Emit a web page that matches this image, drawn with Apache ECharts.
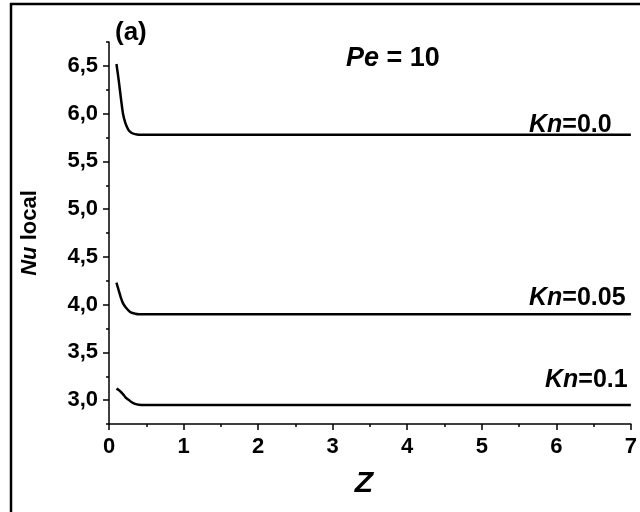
<!DOCTYPE html>
<html>
<head>
<meta charset="utf-8">
<script src="https://cdn.jsdelivr.net/npm/echarts@6/dist/echarts.min.js"></script>
<style>html,body{margin:0;padding:0;background:#fff}#c{width:640px;height:512px}</style>
</head>
<body>
<div id="c"></div>
<script>
const zValues = [0.1, 0.13, 0.16, 0.19, 0.22, 0.26, 0.30, 0.35, 0.40, 0.5, 1, 2, 3, 4, 5, 6, 7];
const nuKn000 = [6.52, 6.35, 6.16, 5.99, 5.90, 5.83, 5.80, 5.785, 5.78, 5.78, 5.78, 5.78, 5.78, 5.78, 5.78, 5.78, 5.78];
const nuKn005 = [4.23, 4.15, 4.07, 4.01, 3.975, 3.94, 3.915, 3.905, 3.90, 3.90, 3.90, 3.90, 3.90, 3.90, 3.90, 3.90, 3.90];
const nuKn010 = [3.12, 3.105, 3.085, 3.06, 3.03, 3.005, 2.98, 2.96, 2.952, 2.95, 2.95, 2.95, 2.95, 2.95, 2.95, 2.95, 2.95];
const seriesNames = ['Kn=0.0', 'Kn=0.05', 'Kn=0.1'];
const xTickValues = [0, 1, 2, 3, 4, 5, 6, 7];
const yTickValues = [3.0, 3.5, 4.0, 4.5, 5.0, 5.5, 6.0, 6.5];
const yMinorTickValues = [2.75, 3.25, 3.75, 4.25, 4.75, 5.25, 5.75, 6.25, 6.75];

const FONT = '"Liberation Sans", Arial, sans-serif';
const pair = (arr) => zValues.map((z, i) => [z, arr[i]]);
const chart = echarts.init(document.getElementById('c'), null, {renderer: 'canvas'});
const lineStyle = {color: '#000', width: 2.5};
const axisLineStyle = {color: '#000', width: 1.5};
const richKn = (size) => ({
  i: {fontFamily: FONT, fontWeight: 'bold', fontStyle: 'italic', fontSize: size, fill: '#000'},
  b: {fontFamily: FONT, fontWeight: 'bold', fontSize: size, fill: '#000'}
});

chart.setOption({
  animation: false,
  backgroundColor: '#fff',
  grid: {left: 109, right: 3, top: 42, bottom: 88, containLabel: false},
  xAxis: {
    type: 'value', min: 0, max: 7, interval: 1,
    name: 'Z', nameLocation: 'middle', nameGap: 45,
    nameTextStyle: {fontFamily: FONT, fontWeight: 'bold', fontStyle: 'italic', fontSize: 30, color: '#000', padding: [0, 12, 0, 0]},
    axisLine: {show: true, onZero: false, lineStyle: axisLineStyle},
    axisTick: {show: true, length: 6, lineStyle: axisLineStyle},
    minorTick: {show: true, splitNumber: 2, length: 3, lineStyle: axisLineStyle},
    axisLabel: {fontFamily: FONT, fontWeight: 'bold', fontSize: 22, color: '#000', margin: 12, formatter: v => String(v)},
    splitLine: {show: false}
  },
  yAxis: [{
    type: 'value', min: 2.75, max: 6.75,
    name: '{i|Nu}{b| local}', nameLocation: 'middle', nameGap: 68,
    nameTextStyle: {rich: {
      i: {fontFamily: FONT, fontWeight: 'bold', fontStyle: 'italic', fontSize: 22, color: '#000'},
      b: {fontFamily: FONT, fontWeight: 'bold', fontSize: 22, color: '#000'}
    }},
    axisLine: {show: true, onZero: false, lineStyle: axisLineStyle},
    axisTick: {show: true, length: 6, lineStyle: axisLineStyle, customValues: yTickValues},
    axisLabel: {fontFamily: FONT, fontWeight: 'bold', fontSize: 22, color: '#000', margin: 11,
      customValues: yTickValues, formatter: v => v.toFixed(1).replace('.', ',')},
    splitLine: {show: false}
  }, {
    type: 'value', min: 2.75, max: 6.75, position: 'left',
    axisLine: {show: false},
    axisTick: {show: true, length: 3, lineStyle: axisLineStyle, customValues: yMinorTickValues},
    axisLabel: {show: false},
    splitLine: {show: false}
  }],
  series: [
    {name: seriesNames[0], type: 'line', data: pair(nuKn000), smooth: 0.3, showSymbol: false, lineStyle},
    {name: seriesNames[1], type: 'line', data: pair(nuKn005), smooth: 0.3, showSymbol: false, lineStyle},
    {name: seriesNames[2], type: 'line', data: pair(nuKn010), smooth: 0.3, showSymbol: false, lineStyle}
  ],
  graphic: [
    {type: 'line', shape: {x1: 11, y1: 3, x2: 11, y2: 512}, style: {stroke: '#000', lineWidth: 2.5}},
    {type: 'line', shape: {x1: 10, y1: 4, x2: 640, y2: 4}, style: {stroke: '#000', lineWidth: 2.5}},
    {type: 'text', left: 115, top: 20, style: {text: '(a)', font: 'bold 26px ' + FONT, fill: '#000'}},
    {type: 'text', left: 346, top: 45, style: {text: '{i|Pe}{b| = 10}', fill: '#000', rich: richKn(27)}},
    {type: 'text', left: 529, top: 113, style: {text: '{i|Kn}{b|=0.0}', fill: '#000', rich: richKn(25)}},
    {type: 'text', left: 529, top: 286, style: {text: '{i|Kn}{b|=0.05}', fill: '#000', rich: richKn(25)}},
    {type: 'text', left: 545, top: 368, style: {text: '{i|Kn}{b|=0.1}', fill: '#000', rich: richKn(25)}}
  ]
});
</script>
</body>
</html>
